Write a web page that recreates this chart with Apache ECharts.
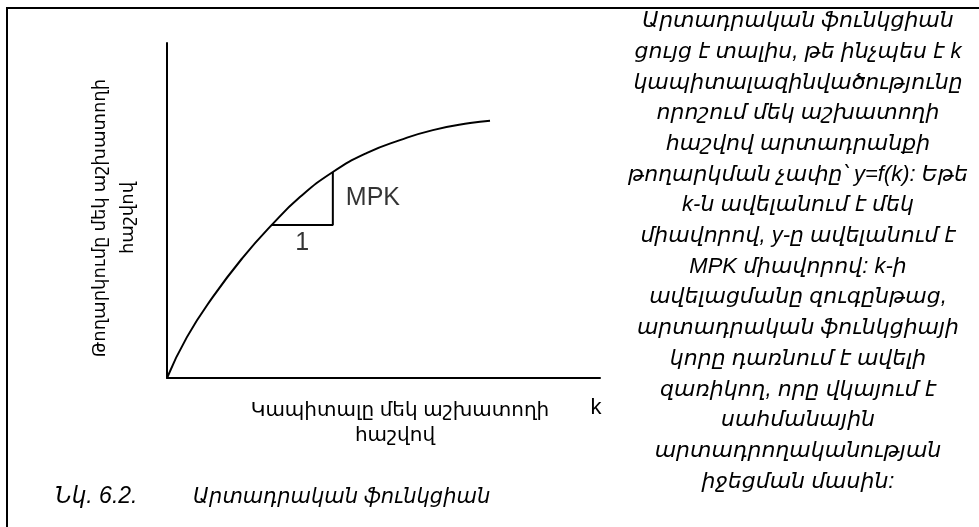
<!DOCTYPE html>
<html>
<head>
<meta charset="utf-8">
<script src="https://cdn.jsdelivr.net/npm/echarts@6/dist/echarts.min.js"></script>
<style>
  html, body { margin: 0; padding: 0; background: #fff; }
  #chart { width: 979px; height: 527px; }
</style>
</head>
<body>
<div id="chart"></div>
<script>
// Production function y = f(k): points (k, y)
const curveK = [0, 0.46, 1.06, 1.76, 2.42, 3.07, 3.83, 4.62, 5.38, 6.14, 7.0, 7.46];
const curveY = [0, 1.22, 2.42, 3.61, 4.57, 5.40, 6.15, 6.72, 7.10, 7.40, 7.61, 7.68];

// Slope triangle: one unit step in k, rise of MPK
const stepK = [2.42, 3.83, 3.83];
const stepY = [4.57, 4.57, 6.15];

// Axis titles
const yTitleLines = ['Թողարկումը մեկ աշխատողի', 'հաշվով'];
const xTitleLines = ['Կապիտալը մեկ աշխատողի', 'հաշվով'];
const xAxisSymbol = 'k';
const runLabel = '1';
const riseLabel = 'MPK';

// Figure caption and explanatory note
const captionNum = 'Նկ. 6.2.';
const captionText = 'Արտադրական ֆունկցիան';
const noteLines = [
  'Արտադրական ֆունկցիան',
  'ցույց է տալիս, թե ինչպես է k',
  'կապիտալազինվածությունը',
  'որոշում մեկ աշխատողի',
  'հաշվով արտադրանքի',
  'թողարկման չափը՝ y=f(k): Եթե',
  'k-ն ավելանում է մեկ',
  'միավորով, y-ը ավելանում է',
  'MPK միավորով: k-ի',
  'ավելացմանը զուգընթաց,',
  'արտադրական ֆունկցիայի',
  'կորը դառնում է ավելի',
  'զառիկող, որը վկայում է',
  'սահմանային',
  'արտադրողականության',
  'իջեցման մասին:'
];

const FONT = '"Liberation Sans", "DejaVu Sans", sans-serif';

const chart = echarts.init(document.getElementById('chart'), null, { renderer: 'canvas' });

const curveData = curveK.map((k, i) => [k, curveY[i]]);
const stepData = stepK.map((k, i) => [k, stepY[i]]);

const graphics = [];
// frame around the figure
graphics.push({
  type: 'rect', shape: { x: 7, y: 8, width: 1000, height: 560 },
  style: { fill: 'none', stroke: '#000', lineWidth: 2 }, silent: true
});
// rotated y-axis title (reads bottom to top)
yTitleLines.forEach((t, i) => {
  graphics.push({
    type: 'text', x: 100 + i * 28, y: 218, rotation: Math.PI / 2,
    style: { text: t, font: '18px ' + FONT, fill: '#000', align: 'center', verticalAlign: 'middle' }
  });
});
// x-axis title
xTitleLines.forEach((t, i) => {
  graphics.push({
    type: 'text', x: 400 - i * 5, y: 410 + i * 25,
    style: { text: t, font: '20px ' + FONT, fill: '#000', align: 'center', verticalAlign: 'middle' }
  });
});
graphics.push({
  type: 'text', x: 596, y: 408,
  style: { text: xAxisSymbol, font: '22px ' + FONT, fill: '#000', align: 'center', verticalAlign: 'middle' }
});
// caption
graphics.push({
  type: 'text', x: 55, y: 497,
  style: { text: captionNum, font: 'italic 23px ' + FONT, fill: '#000', align: 'left', verticalAlign: 'middle' }
});
graphics.push({
  type: 'text', x: 193, y: 497,
  style: { text: captionText, font: 'italic 21px ' + FONT, fill: '#000', align: 'left', verticalAlign: 'middle' }
});
// explanatory note on the right
noteLines.forEach((t, i) => {
  graphics.push({
    type: 'text', x: 798, y: 21 + i * 30.7,
    style: { text: t, font: 'italic 22px ' + FONT, fill: '#000', align: 'center', verticalAlign: 'middle' }
  });
});

chart.setOption({
  animation: false,
  backgroundColor: '#fff',
  grid: { left: 167, top: 43, right: 379, bottom: 149, containLabel: false },
  xAxis: {
    type: 'value', min: 0, max: 10,
    axisLine: { show: true, onZero: false, lineStyle: { color: '#000', width: 2 } },
    axisTick: { show: false }, axisLabel: { show: false }, splitLine: { show: false }
  },
  yAxis: {
    type: 'value', min: 0, max: 10,
    axisLine: { show: true, onZero: false, lineStyle: { color: '#000', width: 2 } },
    axisTick: { show: false }, axisLabel: { show: false }, splitLine: { show: false }
  },
  series: [
    {
      type: 'line', data: curveData, smooth: 0.5, symbol: 'none',
      lineStyle: { color: '#000', width: 2 }, silent: true
    },
    {
      type: 'line', data: stepData, symbol: 'none',
      lineStyle: { color: '#000', width: 2 }, silent: true
    },
    {
      type: 'scatter', symbolSize: 0, silent: true,
      data: [
        { value: [(stepK[0] + stepK[1]) / 2, stepY[0]],
          label: { show: true, formatter: runLabel, position: 'bottom', distance: 6,
                   fontFamily: FONT, fontSize: 25, color: '#000' } },
        { value: [stepK[2], (stepY[1] + stepY[2]) / 2],
          label: { show: true, formatter: riseLabel, position: 'right', distance: 13,
                   fontFamily: FONT, fontSize: 25, color: '#000' } }
      ]
    }
  ],
  graphic: graphics
});
</script>
</body>
</html>
